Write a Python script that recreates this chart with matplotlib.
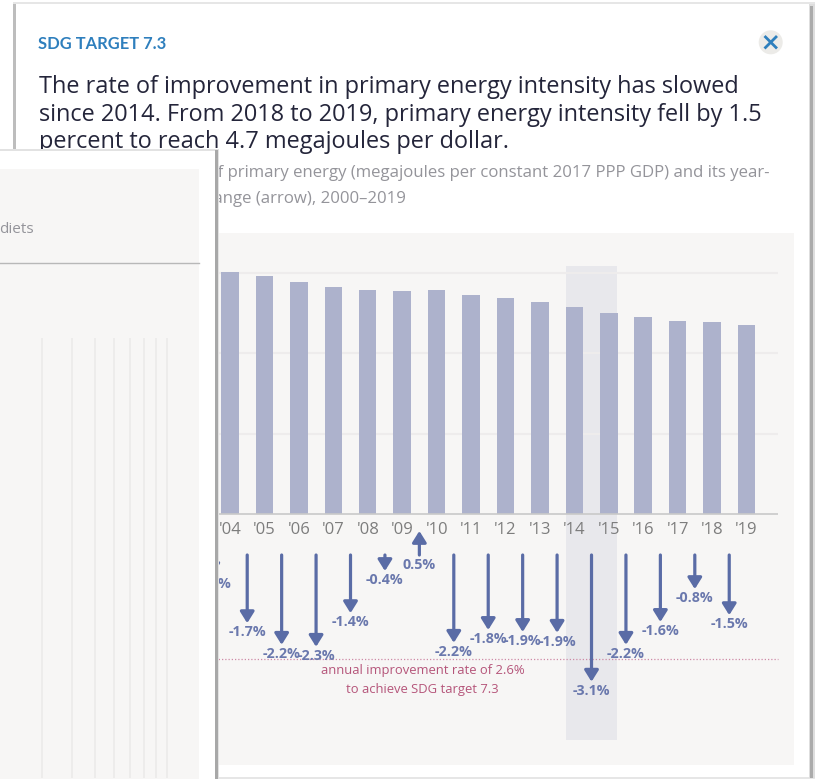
import numpy as np
import matplotlib
matplotlib.use('Agg')
import matplotlib.pyplot as plt
from matplotlib.patches import Rectangle

W, H = 815, 779

years = ["'04", "'05", "'06", "'07", "'08", "'09", "'10", "'11", "'12", "'13", "'14", "'15", "'16", "'17", "'18", "'19"]
intensity = [6.01, 5.91, 5.78, 5.65, 5.57, 5.55, 5.58, 5.46, 5.37, 5.27, 5.16, 5.00, 4.89, 4.81, 4.77, 4.69]
grid_vals = [2, 4, 6]

# year on year change, first one sits mostly behind the front card
change = [-0.5, -1.70, -2.24, -2.29, -1.45, -0.40, 0.60, -2.19, -1.87, -1.92, -1.94, -3.16, -2.24, -1.67, -0.85, -1.50]
change_labels = ['-0.6%', '-1.7%', '-2.2%', '-2.3%', '-1.4%', '-0.4%', '0.5%', '-2.2%', '-1.8%', '-1.9%', '-1.9%',
                 '-3.1%', '-2.2%', '-1.6%', '-0.8%', '-1.5%']
target_rate = -2.6
front_lines = [42, 72, 95, 114, 130, 144, 156, 167]

BAR = '#adb2cc'
ARROW = '#5a6ca6'
LABEL = '#6a78ad'
PANEL = '#f7f6f5'
RED = '#b5557a'
GREY = '#94949a'
BLUE = '#2e7fbd'

plt.rcParams['font.family'] = ['Open Sans', 'DejaVu Sans']

fig = plt.figure(figsize=(W / 100, H / 100), dpi=100, facecolor='white')

# whole figure in pixels, y going down
bg = fig.add_axes([0, 0, 1, 1])
bg.set_xlim(0, W)
bg.set_ylim(H, 0)
bg.axis('off')


def box(x0, y0, x1, y1, color, z=1, ax=bg):
    ax.add_patch(Rectangle((x0, y0), x1 - x0, y1 - y0, fc=color, ec='none', zorder=z))


# back card, soft shadow strips
box(13, 2, 815, 779, '#e6e6e6', 1)
box(13, 4, 16, 776, '#bdbdbd', 1)
box(809, 4, 815, 778, '#dedede', 1)
box(810, 6, 813, 778, '#ababab', 1)
box(16, 4, 809, 777, 'white', 1)
box(40, 233, 794, 764.5, PANEL, 1)

bg.text(38, 43.5, 'SDG TARGET 7.3', fontsize=11.9, color=BLUE, family='Lato', fontweight='bold', va='center', zorder=3)
bg.add_patch(plt.Circle((770.7, 42.3), 12, fc='#ecebe8', ec='none', zorder=2))
bg.plot([765.5, 776], [37, 47.5], color=BLUE, lw=2, zorder=3)
bg.plot([765.5, 776], [47.5, 37], color=BLUE, lw=2, zorder=3)

title = ['The rate of improvement in primary energy intensity has slowed',
         'since 2014. From 2018 to 2019, primary energy intensity fell by 1.5',
         'percent to reach 4.7 megajoules per dollar.']
for i, t in enumerate(title):
    bg.text(39, 87 + i * 27.5, t, fontsize=16.9, color='#24253a', va='center', zorder=3)

bg.text(39, 172.5, 'Energy intensity level of primary energy (megajoules per constant 2017 PPP GDP) and its year-',
        fontsize=12.1, color=GREY, va='center', ha='left', zorder=3)
bg.text(39, 198.5, 'on-year percentage change (arrow), 2000\u20132019', fontsize=12.1, color=GREY, va='center', zorder=3)

# bars: 34.43 px per year, 40.2 px per MJ
x0_px, step = 230.0, 34.43
y0_px, per_unit = 514.0, 40.2
ax = fig.add_axes([0, 0, 1, 1], facecolor='none')
ax.set_xlim(-x0_px / step, (W - x0_px) / step)
ax.set_ylim(-(H - y0_px) / per_unit, y0_px / per_unit)
ax.axis('off')

xs = np.arange(len(years))
# grey band behind 2014 and 2015
ax.add_patch(Rectangle((9.75, -226 / per_unit), 1.5, 474 / per_unit, fc='#e8e8ec', ec='none', zorder=1))
ax.hlines(grid_vals, -0.75, 15.92, color='#eeecec', lw=1.5, zorder=1.5)
ax.hlines(0, -0.75, 15.92, color='#c9c9c9', lw=1.2, zorder=3)
ax.bar(xs, intensity, width=0.51, color=BAR, zorder=2)
for x, y in zip(xs, years):
    ax.text(x, -16.5 / per_unit, y, ha='center', va='center', fontsize=12, color='#7d7d7d', zorder=4)

# arrows: 40.1 px per percent point, hanging from y=555
ppp = 40.1
ax2 = fig.add_axes([0, 0, 1, 1], facecolor='none')
ax2.set_xlim(-x0_px / step - 0.5, (W - x0_px) / step - 0.5)
ax2.set_ylim(-(H - 555) / ppp, 555 / ppp)
ax2.axis('off')
xa = np.arange(len(change)) - 1
ax2.hlines(target_rate, -1.3, 15.42, color='#cf8aa6', lw=0.9, ls=(0, (1, 1.6)), zorder=2)
for x, c, lab in zip(xa, change, change_labels):
    ax2.annotate('', xy=(x, c), xytext=(x, 0), zorder=3,
                 arrowprops=dict(arrowstyle='-|>,head_length=0.48,head_width=0.3', color=ARROW, lw=2.3,
                                 shrinkA=0, shrinkB=0, mutation_scale=14))
    ly = c - 9 / ppp if c < 0 else -10 / ppp
    ax2.text(x, ly, lab, ha='center', va='center', fontsize=10.3, color=LABEL, fontweight='bold', zorder=4)
ax2.text(5.1, target_rate - 11.5 / ppp, 'annual improvement rate of 2.6%', ha='center', va='center', fontsize=9.4, color=RED, zorder=4)
ax2.text(5.1, target_rate - 30.5 / ppp, 'to achieve SDG target 7.3', ha='center', va='center', fontsize=9.4, color=RED, zorder=4)

# front card on top of everything
fr = fig.add_axes([0, 0, 1, 1], facecolor='none')
fr.set_xlim(0, W)
fr.set_ylim(H, 0)
fr.axis('off')
box(0, 149, 218.5, 779, '#e2e2e2', 5, fr)
box(215, 150, 217.5, 779, '#a8a8a8', 5, fr)
box(0, 151, 215, 779, 'white', 5, fr)
box(0, 169, 199, 779, PANEL, 6, fr)
fr.plot([0, 199], [263, 263], color='#b8b8b8', lw=1, zorder=7)
fr.vlines(front_lines, 338, 778, color='#ecebea', lw=1.2, zorder=7)
fr.text(33.5, 229, 'diets', ha='right', va='center', fontsize=11, color=GREY, zorder=7)

fig.savefig('out.png', dpi=100)
